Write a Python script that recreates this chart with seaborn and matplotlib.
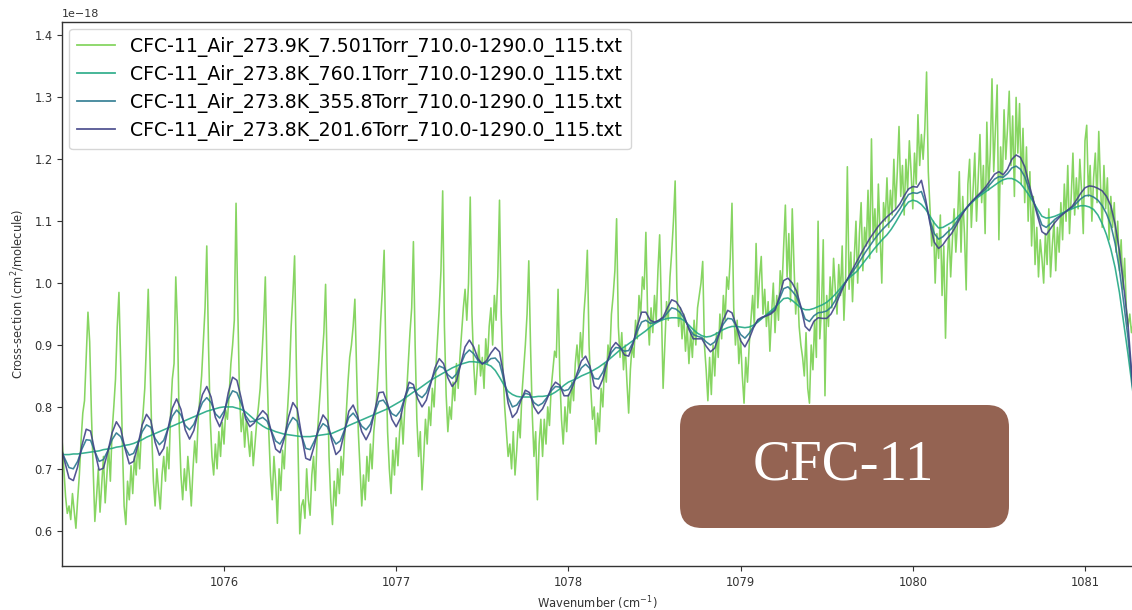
import numpy as np
import matplotlib
matplotlib.use("Agg")
import matplotlib.pyplot as plt
from matplotlib.patches import FancyBboxPatch
from matplotlib.transforms import IdentityTransform
from matplotlib.ticker import MultipleLocator, FuncFormatter
import seaborn as sns

# Series labels (file names of the measured spectra)
labels = [
    "CFC-11_Air_273.9K_7.501Torr_710.0-1290.0_115.txt",
    "CFC-11_Air_273.8K_760.1Torr_710.0-1290.0_115.txt",
    "CFC-11_Air_273.8K_355.8Torr_710.0-1290.0_115.txt",
    "CFC-11_Air_273.8K_201.6Torr_710.0-1290.0_115.txt",
]
colors = ["#7ad151", "#22a884", "#2a788e", "#414487"]

# 7.501 Torr spectrum, 0.01 cm-1 sampling starting at 1075.06 cm-1 (units of 1e-18)
low_p_start, low_p_step = 1075.06, 0.01
low_p = [
    0.745, 0.700, 0.655, 0.628, 0.640, 0.618, 0.660, 0.632, 0.604, 0.650,
    0.690, 0.745, 0.790, 0.810, 0.880, 0.953, 0.905, 0.790, 0.700, 0.615,
    0.655, 0.700, 0.630, 0.675, 0.720, 0.645, 0.690, 0.735, 0.680, 0.760,
    0.800, 0.845, 0.930, 0.985, 0.870, 0.740, 0.640, 0.610, 0.680, 0.650,
    0.705, 0.660, 0.720, 0.690, 0.745, 0.700, 0.760, 0.790, 0.830, 0.905,
    0.990, 0.880, 0.760, 0.680, 0.640, 0.700, 0.665, 0.635, 0.690, 0.720,
    0.680, 0.735, 0.700, 0.790, 0.845, 0.870, 1.010, 0.930, 0.770, 0.690,
    0.650, 0.700, 0.665, 0.720, 0.685, 0.640, 0.700, 0.745, 0.710, 0.780,
    0.815, 0.850, 0.905, 0.960, 1.060, 0.900, 0.780, 0.720, 0.690, 0.740,
    0.700, 0.760, 0.720, 0.775, 0.740, 0.795, 0.780, 0.820, 0.870, 0.900,
    0.940, 1.129, 0.960, 0.820, 0.760, 0.790, 0.735, 0.780, 0.750, 0.720,
    0.760, 0.705, 0.740, 0.775, 0.800, 0.830, 0.880, 0.935, 1.010, 0.860,
    0.760, 0.690, 0.650, 0.720, 0.680, 0.612, 0.700, 0.665, 0.730, 0.700,
    0.760, 0.800, 0.850, 0.930, 0.980, 1.044, 0.870, 0.730, 0.595, 0.640,
    0.650, 0.620, 0.700, 0.650, 0.625, 0.690, 0.720, 0.665, 0.745, 0.790,
    0.830, 0.880, 0.920, 0.998, 0.850, 0.720, 0.650, 0.610, 0.680, 0.640,
    0.700, 0.660, 0.720, 0.690, 0.750, 0.790, 0.840, 0.880, 0.900, 0.930,
    0.974, 0.860, 0.760, 0.700, 0.640, 0.690, 0.650, 0.720, 0.680, 0.740,
    0.700, 0.760, 0.790, 0.830, 0.880, 0.940, 0.990, 1.053, 0.880, 0.760,
    0.700, 0.660, 0.730, 0.690, 0.750, 0.705, 0.760, 0.790, 0.740, 0.800,
    0.820, 0.870, 0.920, 0.960, 1.067, 0.900, 0.780, 0.720, 0.760, 0.666,
    0.720, 0.780, 0.740, 0.800, 0.770, 0.830, 0.800, 0.860, 0.910, 0.960,
    1.020, 1.149, 0.930, 0.820, 0.760, 0.800, 0.780, 0.840, 0.810, 0.870,
    0.830, 0.880, 0.920, 0.960, 0.990, 0.940, 1.000, 1.139, 0.950, 0.870,
    0.820, 0.860, 0.900, 0.850, 0.880, 0.830, 0.910, 0.870, 0.930, 0.960,
    0.900, 0.980, 0.940, 1.010, 1.134, 0.950, 0.860, 0.800, 0.760, 0.720,
    0.740, 0.700, 0.760, 0.690, 0.730, 0.780, 0.750, 0.820, 0.860, 0.900,
    0.950, 1.036, 0.900, 0.790, 0.720, 0.760, 0.650, 0.740, 0.780, 0.720,
    0.780, 0.740, 0.800, 0.770, 0.830, 0.860, 0.890, 0.880, 0.990, 0.850,
    0.780, 0.740, 0.800, 0.760, 0.820, 0.790, 0.840, 0.810, 0.870, 0.900,
    0.860, 0.920, 0.880, 0.950, 0.990, 1.053, 0.900, 0.830, 0.780, 0.800,
    0.740, 0.790, 0.760, 0.830, 0.800, 0.870, 0.840, 0.900, 0.880, 0.950,
    0.980, 1.020, 1.104, 0.930, 0.880, 0.920, 0.860, 0.900, 0.840, 0.790,
    0.860, 0.900, 0.880, 0.940, 0.910, 0.980, 0.950, 1.010, 0.990, 1.082,
    0.950, 0.900, 0.960, 0.920, 0.980, 0.940, 1.020, 1.078, 0.960, 0.830,
    0.900, 0.970, 0.940, 1.010, 1.050, 1.100, 1.165, 0.990, 0.930, 0.960,
    0.910, 0.950, 0.890, 0.930, 0.870, 0.920, 0.880, 0.940, 0.900, 0.960,
    0.980, 1.000, 1.035, 0.900, 0.860, 0.810, 0.880, 0.820, 0.900, 0.850,
    0.920, 0.880, 0.950, 0.910, 0.980, 0.940, 1.010, 0.990, 1.040, 1.129,
    0.960, 0.900, 0.940, 0.870, 0.910, 0.850, 0.806, 0.880, 0.840, 0.900,
    0.940, 0.980, 0.930, 1.064, 0.960, 1.010, 1.043, 0.950, 0.990, 0.930,
    0.970, 0.890, 0.950, 1.000, 0.920, 0.980, 0.940, 1.020, 0.990, 1.060,
    1.126, 1.010, 1.080, 0.970, 1.120, 1.030, 0.950, 1.000, 0.930, 0.900,
    0.880, 0.850, 0.920, 0.830, 0.806, 0.900, 0.860, 0.940, 0.880, 1.100,
    0.910, 0.960, 1.070, 0.818, 0.980, 0.930, 1.010, 0.960, 1.040, 0.990,
    0.950, 1.030, 0.980, 1.060, 0.940, 1.010, 1.188, 0.990, 1.050, 0.970,
    1.040, 1.100, 1.000, 1.080, 1.130, 1.020, 1.090, 1.060, 1.150, 1.040,
    1.233, 1.070, 1.120, 1.050, 1.160, 1.080, 1.000, 1.130, 1.100, 1.170,
    1.090, 1.150, 1.110, 1.200, 1.120, 1.180, 1.253, 1.140, 1.190, 1.110,
    1.200, 1.150, 1.230, 1.180, 1.120, 1.210, 1.160, 1.272, 1.190, 1.240,
    1.200, 1.250, 1.341, 1.180, 1.120, 1.060, 1.100, 1.000, 1.080, 1.040,
    1.110, 0.980, 1.060, 0.911, 1.030, 1.090, 1.010, 1.070, 1.120, 1.050,
    1.100, 1.180, 1.050, 1.140, 1.080, 0.989, 1.160, 1.200, 1.090, 1.150,
    1.210, 1.100, 1.170, 1.240, 1.130, 1.190, 1.080, 1.260, 1.150, 1.210,
    1.330, 1.180, 1.250, 1.320, 1.070, 1.220, 1.160, 1.280, 1.200, 1.250,
    1.310, 1.190, 1.270, 1.140, 1.300, 1.210, 1.290, 1.160, 1.250, 1.130,
    1.220, 1.100, 1.180, 1.060, 1.140, 1.030, 1.090, 1.010, 1.070, 1.040,
    1.000, 1.080, 1.030, 1.120, 1.010, 1.060, 1.100, 1.020, 1.090, 1.050,
    1.130, 1.070, 1.160, 1.100, 1.190, 1.080, 1.140, 1.210, 1.110, 1.170,
    1.120, 1.200, 1.150, 1.080, 1.230, 1.255, 1.140, 1.190, 1.100, 1.170,
    1.210, 1.130, 1.245, 1.160, 1.090, 1.190, 1.120, 1.170, 1.070, 1.140,
    1.090, 1.130, 1.050, 1.100, 1.020, 1.070, 0.990, 1.040, 0.960, 0.930,
    0.950, 0.920, 0.935, 0.910,
]

# Pressure-broadened spectra, 0.025 cm-1 sampling starting at 1075.05 cm-1 (units of 1e-18)
broad_start, broad_step = 1075.05, 0.025
p760 = [
    0.723, 0.723, 0.723, 0.724, 0.724, 0.725, 0.726, 0.727, 0.728, 0.729,
    0.731, 0.732, 0.733, 0.735, 0.736, 0.738, 0.739, 0.741, 0.744, 0.747,
    0.751, 0.754, 0.757, 0.760, 0.763, 0.766, 0.769, 0.772, 0.775, 0.778,
    0.781, 0.784, 0.787, 0.790, 0.793, 0.795, 0.797, 0.799, 0.800, 0.800,
    0.800, 0.798, 0.796, 0.792, 0.786, 0.780, 0.774, 0.769, 0.765, 0.763,
    0.760, 0.758, 0.756, 0.755, 0.754, 0.753, 0.752, 0.752, 0.752, 0.753,
    0.754, 0.755, 0.756, 0.757, 0.760, 0.763, 0.766, 0.770, 0.773, 0.776,
    0.779, 0.782, 0.785, 0.788, 0.791, 0.794, 0.797, 0.801, 0.805, 0.809,
    0.814, 0.819, 0.824, 0.828, 0.833, 0.838, 0.843, 0.847, 0.851, 0.855,
    0.859, 0.863, 0.866, 0.869, 0.871, 0.873, 0.873, 0.872, 0.871, 0.869,
    0.866, 0.859, 0.848, 0.836, 0.825, 0.820, 0.817, 0.816, 0.816, 0.816,
    0.816, 0.817, 0.817, 0.818, 0.820, 0.824, 0.829, 0.835, 0.840, 0.843,
    0.846, 0.850, 0.853, 0.856, 0.860, 0.864, 0.869, 0.874, 0.880, 0.886,
    0.892, 0.897, 0.902, 0.907, 0.913, 0.918, 0.923, 0.929, 0.934, 0.938,
    0.941, 0.943, 0.944, 0.944, 0.943, 0.939, 0.932, 0.925, 0.919, 0.915,
    0.913, 0.914, 0.917, 0.921, 0.925, 0.928, 0.930, 0.930, 0.929, 0.928,
    0.929, 0.932, 0.937, 0.943, 0.949, 0.955, 0.961, 0.968, 0.975, 0.976,
    0.972, 0.966, 0.960, 0.957, 0.957, 0.959, 0.962, 0.965, 0.969, 0.975,
    0.982, 0.990, 0.999, 1.007, 1.013, 1.019, 1.028, 1.037, 1.046, 1.055,
    1.063, 1.071, 1.078, 1.087, 1.098, 1.110, 1.122, 1.131, 1.134, 1.132,
    1.127, 1.119, 1.108, 1.097, 1.089, 1.090, 1.094, 1.098, 1.104, 1.111,
    1.118, 1.125, 1.132, 1.138, 1.143, 1.148, 1.153, 1.158, 1.163, 1.167,
    1.169, 1.169, 1.166, 1.161, 1.152, 1.142, 1.131, 1.119, 1.108, 1.105,
    1.106, 1.108, 1.111, 1.114, 1.117, 1.120, 1.123, 1.125, 1.125, 1.123,
    1.119, 1.110, 1.096, 1.078, 1.055, 1.025, 0.985, 0.935, 0.885, 0.830,
    0.780,
]
p355 = [
    0.732, 0.717, 0.702, 0.700, 0.712, 0.732, 0.747, 0.746, 0.728, 0.712,
    0.715, 0.729, 0.747, 0.758, 0.752, 0.735, 0.722, 0.725, 0.741, 0.760,
    0.771, 0.767, 0.749, 0.739, 0.746, 0.765, 0.785, 0.795, 0.787, 0.770,
    0.763, 0.772, 0.790, 0.807, 0.815, 0.807, 0.789, 0.782, 0.793, 0.813,
    0.826, 0.823, 0.806, 0.786, 0.776, 0.777, 0.780, 0.783, 0.777, 0.761,
    0.745, 0.740, 0.752, 0.771, 0.783, 0.777, 0.754, 0.733, 0.731, 0.745,
    0.762, 0.773, 0.768, 0.752, 0.740, 0.745, 0.763, 0.783, 0.790, 0.781,
    0.769, 0.763, 0.772, 0.791, 0.809, 0.811, 0.801, 0.789, 0.785, 0.794,
    0.815, 0.831, 0.831, 0.820, 0.815, 0.823, 0.840, 0.856, 0.866, 0.863,
    0.852, 0.846, 0.853, 0.869, 0.885, 0.892, 0.886, 0.875, 0.870, 0.872,
    0.878, 0.879, 0.871, 0.844, 0.815, 0.800, 0.803, 0.813, 0.822, 0.820,
    0.807, 0.802, 0.806, 0.815, 0.826, 0.833, 0.832, 0.826, 0.828, 0.838,
    0.850, 0.863, 0.869, 0.862, 0.846, 0.845, 0.856, 0.873, 0.888, 0.896,
    0.895, 0.890, 0.891, 0.904, 0.922, 0.937, 0.940, 0.935, 0.936, 0.939,
    0.943, 0.952, 0.960, 0.958, 0.952, 0.942, 0.928, 0.917, 0.914, 0.912,
    0.905, 0.900, 0.905, 0.919, 0.934, 0.943, 0.942, 0.931, 0.917, 0.911,
    0.919, 0.930, 0.939, 0.944, 0.948, 0.952, 0.958, 0.974, 0.991, 0.994,
    0.987, 0.978, 0.961, 0.942, 0.938, 0.947, 0.952, 0.953, 0.955, 0.961,
    0.972, 0.985, 0.997, 1.008, 1.018, 1.028, 1.039, 1.050, 1.060, 1.070,
    1.079, 1.087, 1.094, 1.101, 1.110, 1.120, 1.132, 1.143, 1.146, 1.145,
    1.148, 1.128, 1.101, 1.080, 1.071, 1.075, 1.082, 1.088, 1.097, 1.108,
    1.117, 1.126, 1.133, 1.140, 1.146, 1.152, 1.160, 1.168, 1.172, 1.171,
    1.177, 1.186, 1.189, 1.184, 1.172, 1.152, 1.133, 1.113, 1.094, 1.090,
    1.096, 1.103, 1.108, 1.113, 1.118, 1.122, 1.129, 1.136, 1.141, 1.142,
    1.139, 1.134, 1.125, 1.112, 1.094, 1.064, 1.022, 0.968, 0.911, 0.836,
    0.770,
]
p201 = [
    0.740, 0.712, 0.685, 0.681, 0.703, 0.738, 0.764, 0.761, 0.728, 0.698,
    0.701, 0.727, 0.758, 0.776, 0.765, 0.733, 0.708, 0.712, 0.738, 0.771,
    0.788, 0.778, 0.743, 0.722, 0.733, 0.765, 0.798, 0.813, 0.796, 0.763,
    0.748, 0.762, 0.792, 0.820, 0.833, 0.816, 0.783, 0.768, 0.787, 0.823,
    0.848, 0.843, 0.814, 0.781, 0.768, 0.774, 0.785, 0.794, 0.787, 0.760,
    0.732, 0.726, 0.749, 0.784, 0.807, 0.797, 0.755, 0.717, 0.714, 0.738,
    0.768, 0.787, 0.778, 0.747, 0.723, 0.730, 0.760, 0.793, 0.803, 0.786,
    0.760, 0.747, 0.761, 0.794, 0.823, 0.824, 0.805, 0.780, 0.768, 0.782,
    0.815, 0.840, 0.836, 0.813, 0.800, 0.811, 0.837, 0.863, 0.878, 0.870,
    0.847, 0.833, 0.842, 0.869, 0.897, 0.908, 0.897, 0.878, 0.869, 0.875,
    0.887, 0.896, 0.889, 0.850, 0.806, 0.783, 0.791, 0.811, 0.827, 0.823,
    0.800, 0.789, 0.797, 0.812, 0.830, 0.840, 0.835, 0.818, 0.818, 0.833,
    0.854, 0.874, 0.882, 0.866, 0.834, 0.829, 0.845, 0.872, 0.895, 0.904,
    0.897, 0.884, 0.882, 0.901, 0.930, 0.953, 0.953, 0.940, 0.937, 0.940,
    0.945, 0.960, 0.973, 0.970, 0.960, 0.945, 0.925, 0.910, 0.910, 0.910,
    0.898, 0.889, 0.895, 0.917, 0.941, 0.956, 0.952, 0.931, 0.907, 0.897,
    0.910, 0.928, 0.941, 0.945, 0.947, 0.950, 0.956, 0.978, 1.004, 1.008,
    1.000, 0.987, 0.962, 0.930, 0.923, 0.938, 0.944, 0.943, 0.943, 0.950,
    0.963, 0.980, 0.996, 1.009, 1.022, 1.035, 1.048, 1.060, 1.072, 1.082,
    1.092, 1.100, 1.107, 1.113, 1.119, 1.128, 1.141, 1.152, 1.156, 1.155,
    1.166, 1.135, 1.096, 1.066, 1.056, 1.062, 1.072, 1.080, 1.092, 1.105,
    1.117, 1.126, 1.134, 1.141, 1.148, 1.156, 1.166, 1.176, 1.180, 1.175,
    1.184, 1.200, 1.207, 1.203, 1.188, 1.160, 1.134, 1.108, 1.083, 1.078,
    1.088, 1.098, 1.106, 1.112, 1.118, 1.124, 1.134, 1.145, 1.154, 1.157,
    1.156, 1.153, 1.149, 1.140, 1.125, 1.095, 1.052, 0.995, 0.932, 0.840,
    0.760,
]

# Wavenumber axes of the two sampling grids
wn_low = low_p_start + low_p_step * np.arange(len(low_p))
wn_broad = broad_start + broad_step * np.arange(len(p760))

W, H, DPI = 1132, 610, 100
fig = plt.figure(figsize=(W / DPI, H / DPI), dpi=DPI)
left_px, right_px, top_px, bottom_px = 62.3, 1132, 22, 566
ax = fig.add_axes([left_px / W, (H - bottom_px) / H,
                   (right_px - left_px) / W, (bottom_px - top_px) / H])

series = [low_p, p760, p355, p201]
grids = [wn_low, wn_broad, wn_broad, wn_broad]
for wn, vals, lab, col in zip(grids, series, labels, colors):
    sns.lineplot(x=wn, y=np.asarray(vals) * 1e-18, ax=ax, color=col,
                 lw=1.15, alpha=0.9, label=lab, estimator=None, sort=False)

ax.set_xlim(1075.061, 1081.273)
ax.set_ylim(0.543e-18, 1.4218e-18)
ax.xaxis.set_major_locator(MultipleLocator(1))
ax.yaxis.set_major_locator(MultipleLocator(0.1e-18))
# Tick labels in units of 1e-18; the scale factor is written above the axis
ax.yaxis.set_major_formatter(FuncFormatter(lambda v, _: f"{v * 1e18:.1f}"))
ax.xaxis.get_offset_text().set_visible(False)
ax.yaxis.get_offset_text().set_visible(False)
ax.text(0.0, 1.006, "1e\u221218", transform=ax.transAxes, ha="left", va="bottom",
        fontsize=8.0, color="#333333")

ax.spines["right"].set_visible(False)
for s in ["left", "top", "bottom"]:
    ax.spines[s].set_color("#333333")
    ax.spines[s].set_linewidth(1.0)
ax.tick_params(labelsize=8.3, colors="#333333", length=3.5)

ax.set_xlabel("Wavenumber (cm$^{-1}$)", fontsize=8.3, color="#333333", labelpad=4)
ax.set_ylabel("Cross-section (cm$^2$/molecule)", fontsize=8.3, color="#333333", labelpad=5)

leg = ax.legend(loc="upper left", fontsize=13.6, labelspacing=0.42,
                handlelength=2.0, borderaxespad=0.35, framealpha=0.8,
                borderpad=0.45)
for line in leg.get_lines():
    line.set_linewidth(1.3)

# Title badge in the lower right of the plot
badge = FancyBboxPatch((680, H - 528), 329, 123,
                       boxstyle="round,pad=0,rounding_size=22",
                       transform=IdentityTransform(), facecolor="#946352",
                       edgecolor="none", zorder=10)
fig.add_artist(badge)
fig.text(843 / W, (H - 466) / H, "CFC-11", ha="center", va="center",
         fontsize=41, color="white", family="Liberation Serif", zorder=11)

fig.savefig("out.png", dpi=DPI)
